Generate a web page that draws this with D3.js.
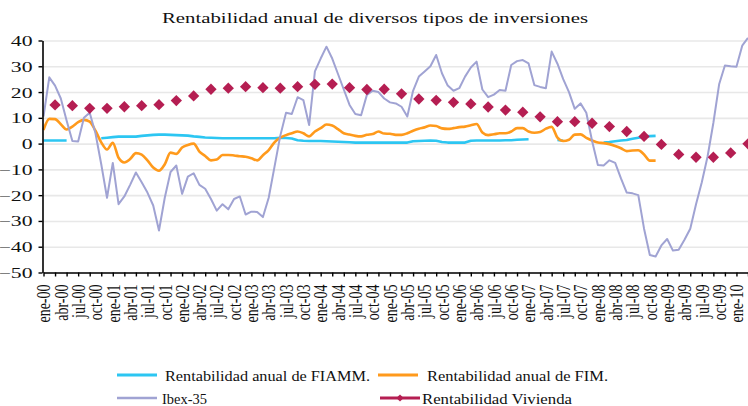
<!DOCTYPE html>
<html>
<head>
<meta charset="utf-8">
<script src="https://cdn.jsdelivr.net/npm/d3@7"></script>
<style>
  body { margin: 0; background: #fff; }
  svg { display: block; font-family: "Liberation Serif", "Times New Roman", serif; }
</style>
</head>
<body>
<svg id="chart" width="748" height="406"></svg>
<script>
// month names for the category axis (ene-00 .. mar-10)
const meses = ['ene', 'feb', 'mar', 'abr', 'may', 'jun', 'jul', 'ago', 'sep', 'oct', 'nov', 'dic'];

const tickLabels = [
  'ene-00', 'abr-00', 'jul-00', 'oct-00', 'ene-01', 'abr-01', 'jul-01', 'oct-01',
  'ene-02', 'abr-02', 'jul-02', 'oct-02', 'ene-03', 'abr-03', 'jul-03', 'oct-03',
  'ene-04', 'abr-04', 'jul-04', 'oct-04', 'ene-05', 'abr-05', 'jul-05', 'oct-05',
  'ene-06', 'abr-06', 'jul-06', 'oct-06', 'ene-07', 'abr-07', 'jul-07', 'oct-07',
  'ene-08', 'abr-08', 'jul-08', 'oct-08', 'ene-09', 'abr-09', 'jul-09', 'oct-09',
  'ene-10'
];

const yTicks = [-50, -40, -30, -20, -10, 0, 10, 20, 30, 40];

// monthly, from ene-00
const fiamm = [
  1.2, 1.2, 1.2, 1.2, 1.2, null, null, null, null, null,
  2.1, 2.3, 2.5, 2.7, 2.7, 2.7, 2.7, 3, 3.2, 3.4,
  3.5, 3.5, 3.4, 3.3, 3.2, 3.1, 2.8, 2.6, 2.4, 2.3,
  2.2, 2.1, 2.1, 2.1, 2.1, 2.1, 2.1, 2.1, 2.1, 2.1,
  2.1, 2.3, 2.2, 2, 1.3, 1.1, 1, 1, 1, 0.9,
  0.8, 0.7, 0.6, 0.5, 0.4, 0.4, 0.4, 0.4, 0.4, 0.4,
  0.4, 0.4, 0.4, 0.4, 0.9, 1, 1.1, 1.2, 1.1, 0.6,
  0.4, 0.4, 0.4, 0.4, 1.1, 1.2, 1.2, 1.2, 1.2, 1.2,
  1.3, 1.3, 1.5, 1.6, 1.7, null, null, null, null, 1.4,
  1.1, null, null, null, null, null, null, 0.4, 0.6, 0.9,
  1.2, 1.4, 1.9, 2.3, 2.7, 2.9, 3.0
];

const fim = [
  5.3, 9.6, 9.5, 7.5, 5.5, 6.6, 8.3, 9.2, 8.5, 5,
  0.5, -2.3, 0.3, -5.5, -7.3, -6, -3.7, -4.3, -6.5, -9.3,
  -10.5, -8, -3.5, -4, -1.5, -0.5, 0, -3.1, -4.8, -6.5,
  -6.2, -4.4, -4.4, -4.6, -4.9, -5.1, -5.7, -6.5, -4.5, -2.5,
  0.5, 2.3, 3.3, 4, 4.7, 4, 2.8, 4.7, 6, 7.4,
  7, 5.6, 4, 3.5, 3, 2.8, 3.4, 3.7, 4.7, 3.9,
  3.8, 3.4, 3.4, 4, 5, 5.8, 6.3, 7, 6.8, 5.9,
  5.7, 6, 6.4, 6.6, 7.1, 7.6, 4.3, 3.3, 3.6, 4,
  4, 4.7, 6, 6, 4.7, 4.2, 4.5, 5.8, 6.5, 2.3,
  1, 1.5, 3.5, 3.6, 2.2, 1.2, 0.4, 0.2, -0.2, -0.9,
  -1.8, -2.9, -2.7, -2.6, -4.2, -6.6, -6.6
];

const ibex = [
  10.5, 25.7, 22.5, 17.5, 9, 1, 0.8, 10, 12, 4,
  -8, -21, -7.5, -23.5, -20.5, -16, -11.2, -15, -19, -24,
  -33.7, -21, -11, -8.5, -19.5, -12.8, -11.5, -16, -17.5, -21.5,
  -26, -23.5, -25.5, -21.5, -20.5, -27.5, -26.4, -26.5, -28.5, -21,
  -9, 3, 12, 11.5, 18, 16.9, 7.2, 28, 33, 37.6,
  33, 27, 21, 15, 11.5, 11, 18.9, 20.5, 20, 17.5,
  16, 15.6, 14.3, 10.5, 20.5, 26, 28, 30, 34.4, 27.3,
  22.5, 20.5, 21.5, 26, 29.5, 31.8, 21, 18, 19, 20.8,
  20.5, 30.5, 32, 32.4, 31.1, 22.7, 22, 21.5, 35.7, 31,
  25, 20, 13.5, 15.6, 12, 1, -8.3, -8.5, -6.5, -7.5,
  -13.5, -19, -19.3, -20, -33, -43.2, -43.8, -39.5, -37, -41.5,
  -41.2, -37.3, -33, -23.5, -15, -5, 8, 23, 30.3, 30,
  29.8, 38, 41
];

// quarterly (mar-00, jun-00, ... mar-10)
const vivienda = [
  15.0, 14.7, 13.7, 13.7, 14.3, 14.7, 15.1, 16.7, 18.5, 21.1,
  21.5, 22.1, 21.7, 21.5, 22.1, 23.0, 23.1, 21.7, 21.0, 21.1,
  19.3, 17.3, 16.8, 16.0, 15.4, 14.2, 13.0, 12.2, 10.4, 8.5,
  8.5, 7.9, 6.6, 4.7, 2.8, -0.3, -4.2, -5.3, -5.3, -3.6,
  -0.1
];

const seriesNames = ['Rentabilidad anual de FIAMM.', 'Rentabilidad anual de FIM.', 'Ibex-35', 'Rentabilidad Vivienda'];
const colors = ['#2cc6f2', '#ff9a1c', '#a0a3d3', '#b51e52'];

const categories = d3.range(ibex.length).map(i => meses[i % 12] + '-' + String(Math.floor(i / 12)).padStart(2, '0'));
const quarters = categories.filter((d, i) => i % 3 === 2);

const svg = d3.select('#chart');
const serif = '"Liberation Serif", "Times New Roman", serif';

const x = d3.scalePoint().domain(categories).range([43.5, 748]);
const y = d3.scaleLinear().domain([-50, 40]).range([272.5, 40.5]);

// gridlines
svg.append('g')
  .attr('transform', 'translate(42.5,0)')
  .call(d3.axisLeft(y).tickValues(yTicks).tickSize(-720).tickFormat(''))
  .call(g => g.select('.domain').remove())
  .selectAll('line').attr('stroke', '#e8e8e8').attr('stroke-width', 1.6);

// series
const line = d3.line()
  .defined(d => d.v != null)
  .x(d => x(d.c))
  .y(d => y(d.v));

function toPts(arr) { return arr.map((v, i) => ({ c: categories[i], v: v })); }

svg.append('path').datum(toPts(fiamm))
  .attr('fill', 'none').attr('stroke', colors[0]).attr('stroke-width', 2.6)
  .attr('stroke-linejoin', 'round').attr('d', line);

svg.append('path').datum(toPts(fim))
  .attr('fill', 'none').attr('stroke', colors[1]).attr('stroke-width', 2.6)
  .attr('stroke-linejoin', 'round').attr('d', line.curve(d3.curveMonotoneX));

svg.append('path').datum(toPts(ibex))
  .attr('fill', 'none').attr('stroke', colors[2]).attr('stroke-width', 2)
  .attr('stroke-linejoin', 'round').attr('d', line.curve(d3.curveLinear));

const diamond = d3.symbol().type(d3.symbolSquare).size(64);
svg.append('g').selectAll('path')
  .data(vivienda.map((v, i) => ({ c: quarters[i], v: v })))
  .join('path')
  .attr('d', diamond)
  .attr('fill', colors[3])
  .attr('transform', d => `translate(${x(d.c)},${y(d.v)}) rotate(45)`);

// y axis
const yAxis = svg.append('g')
  .attr('transform', 'translate(42.5,0)')
  .call(d3.axisLeft(y).tickValues(yTicks).tickSize(4).tickSizeOuter(0));
yAxis.select('.domain').attr('stroke', '#000').attr('stroke-width', 1.6);
yAxis.selectAll('line').attr('stroke', '#000').attr('stroke-width', 1.4);
yAxis.selectAll('text')
  .attr('font-family', serif)
  .attr('font-size', 15)
  .attr('fill', '#111')
  .attr('x', -10 / 1.45)
  .attr('dy', '0.33em')
  .attr('transform', 'scale(1.45,1)');

// x axis: ticks every two months, labels every quarter
const xTicks = svg.append('g')
  .attr('transform', `translate(0,${y(-50)})`)
  .call(d3.axisBottom(x).tickValues(categories.filter((d, i) => i % 2 === 0)).tickSize(4).tickSizeOuter(0).tickFormat(''));
xTicks.select('.domain').attr('stroke', '#000').attr('stroke-width', 1.6);
xTicks.selectAll('line').attr('stroke', '#000').attr('stroke-width', 1.4);

const xLabels = svg.append('g')
  .attr('transform', `translate(0,${y(-50)})`)
  .call(d3.axisBottom(x).tickValues(tickLabels).tickSize(0));
xLabels.select('.domain').remove();
xLabels.selectAll('text')
  .attr('font-family', serif)
  .attr('font-size', 14)
  .attr('fill', '#111')
  .attr('x', 0).attr('y', 0)
  .attr('dy', '0.33em')
  .attr('text-anchor', 'end')
  .attr('transform', 'translate(0,12) scale(1.35,1) rotate(-90)');

// title
svg.append('text')
  .attr('x', 375).attr('y', 23)
  .attr('text-anchor', 'middle')
  .attr('font-family', serif)
  .attr('font-size', 15)
  .attr('fill', '#111')
  .attr('textLength', 426)
  .attr('lengthAdjust', 'spacingAndGlyphs')
  .text('Rentabilidad anual de diversos tipos de inversiones');

// legend
const legendItems = [
  { name: seriesNames[0], color: colors[0], lx: 117, ly: 375, tx: 165, tw: 205, w: 3 },
  { name: seriesNames[1], color: colors[1], lx: 378, ly: 375, tx: 427, tw: 181, w: 3 },
  { name: seriesNames[2], color: colors[2], lx: 117, ly: 398, tx: 162, tw: 45, w: 2.4 },
  { name: seriesNames[3], color: colors[3], lx: 380, ly: 398, tx: 422, tw: 150, w: 3, marker: true }
];
const lg = svg.append('g').selectAll('g').data(legendItems).join('g');
lg.append('line')
  .attr('x1', d => d.lx).attr('x2', d => d.lx + 40)
  .attr('y1', d => d.ly).attr('y2', d => d.ly)
  .attr('stroke', d => d.color).attr('stroke-width', d => d.w);
lg.filter(d => d.marker).append('path')
  .attr('d', d3.symbol().type(d3.symbolSquare).size(26))
  .attr('fill', d => d.color)
  .attr('transform', d => `translate(${d.lx + 20},${d.ly}) rotate(45)`);
lg.append('text')
  .attr('x', d => d.tx).attr('y', d => d.ly + 6)
  .attr('font-family', serif)
  .attr('font-size', 15)
  .attr('fill', '#111')
  .attr('textLength', d => d.tw)
  .attr('lengthAdjust', 'spacingAndGlyphs')
  .text(d => d.name);
</script>
</body>
</html>
